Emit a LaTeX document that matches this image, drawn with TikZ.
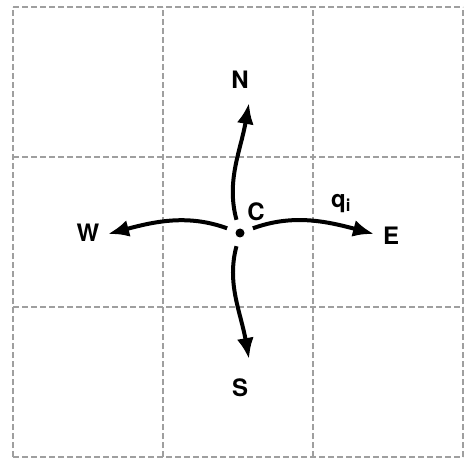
\documentclass[tikz,border=0pt]{standalone}
\usepackage{fontspec}
\setmainfont{TeX Gyre Heros}
\usepackage{tikz}
\usetikzlibrary{arrows.meta}

\begin{document}
\begin{tikzpicture}[
    x=1pt, y=1pt,
    grid/.style={draw=gray!75, dashed, dash pattern=on 6pt off 3pt, line width=1.2pt},
    lbl/.style={font=\fontsize{24}{28}\selectfont\bfseries, inner sep=1pt},
    dot/.style={circle, fill=black, minimum size=9pt, inner sep=0pt},
    flow/.style={draw, -{Latex[length=21pt,width=17pt]}, line width=4pt, shorten <=9pt}
]
    \useasboundingbox (0,0) rectangle (465,458);

    % 3x3 cells
    \draw[grid, shift={(13,1)}] (0,0) grid[step=150] (450,450);

    % centre cell
    \node [dot] (c) at (240,225) {};
    \node [lbl] (clab) at (256,246) {C};

    % neighbours
    \node [lbl] (n) at (240,378) {N};
    \node [lbl] (s) at (240,70) {S};
    \node [lbl] (w) at (88,225) {W};
    \node [lbl] (e) at (391,222) {E};
    \node [lbl] (q) at (341,254) {q\textsubscript{i}};

    % arrow tips
    \coordinate (ntip) at (249,355);
    \coordinate (stip) at (249,99);
    \coordinate (wtip) at (108,224);
    \coordinate (etip) at (374,224);

    % Paths
    \path [flow] (c) to[out=105, in=-100] (ntip);
    \path [flow] (c) to[out=-105, in=100] (stip);
    \path [flow] (c) to[out=160, in=15] (wtip);
    \path [flow] (c) to[out=20, in=165] (etip);

\end{tikzpicture}
\end{document}
